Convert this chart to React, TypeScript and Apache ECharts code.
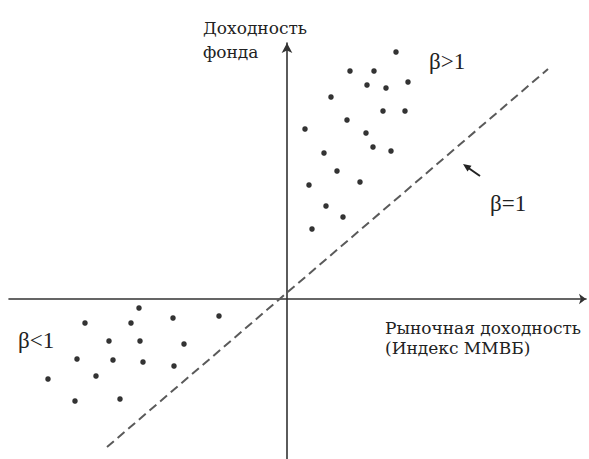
import React, { useEffect, useRef } from "react";
import * as echarts from "echarts";

// Scatter of fund return (y) vs market return (x), abstract units
const highBetaPoints: [number, number][] = [
  [10.9, 24.7], [6.3, 22.8], [8.7, 22.8], [8.0, 21.4], [9.9, 21.1], [12.1, 21.7],
  [4.4, 20.2], [9.6, 18.8], [11.8, 18.8], [6.0, 17.9], [1.8, 17.0], [7.9, 16.6],
  [8.6, 15.2], [10.4, 14.8], [3.7, 14.6], [5.0, 12.8], [2.2, 11.4], [7.3, 11.7],
  [3.9, 9.3], [5.6, 8.2], [2.5, 7.0],
];
const lowBetaPoints: [number, number][] = [
  [-14.8, -0.9], [-20.2, -2.4], [-15.6, -2.4], [-11.4, -1.9], [-6.8, -1.7],
  [-17.8, -4.2], [-14.7, -4.2], [-10.3, -4.5], [-21.0, -6.0], [-17.4, -6.1],
  [-14.4, -6.3], [-11.3, -6.7], [-23.9, -8.0], [-19.1, -7.7], [-21.2, -10.2],
  [-16.7, -10.0],
];
const betaOneLine: [number, number][] = [
  [-18.0, -14.8],
  [26.1, 23.0],
];
const xRange = [-27.8, 29.9];
const yRange = [-16.0, 25.6];

const yTitleLines = ["Доходность", "фонда"];
const xTitleLines = ["Рыночная доходность", "(Индекс ММВБ)"];
const betaLabels = ["β>1", "β=1", "β<1"];

export default function App() {
  const ref = useRef<HTMLDivElement>(null);
  useEffect(() => {
    if (!ref.current) return;
    const chart = echarts.init(ref.current, null, { renderer: "svg" });
    const axisFont = '17px "DejaVu Serif"';
    const betaFont = '23px "Liberation Serif"';
    const txt = (text: string, x: number, y: number, font: string) => ({
      type: "text",
      style: {
        text,
        x,
        y,
        font,
        fill: "#222",
        textAlign: "left",
        align: "left",
        textVerticalAlign: "middle",
        verticalAlign: "middle",
      },
    });
    chart.setOption({
      animation: false,
      backgroundColor: "#fff",
      grid: { left: 9, right: 3, top: 43, bottom: 0, containLabel: false },
      xAxis: {
        type: "value",
        min: xRange[0],
        max: xRange[1],
        axisLine: {
          onZero: true,
          symbol: ["none", "arrow"],
          symbolSize: [8, 7],
          lineStyle: { color: "#333", width: 1.6 },
        },
        axisTick: { show: false },
        axisLabel: { show: false },
        splitLine: { show: false },
      },
      yAxis: {
        type: "value",
        min: yRange[0],
        max: yRange[1],
        axisLine: {
          onZero: true,
          symbol: ["none", "arrow"],
          symbolSize: [8, 10],
          lineStyle: { color: "#333", width: 1.6 },
        },
        axisTick: { show: false },
        axisLabel: { show: false },
        splitLine: { show: false },
      },
      series: [
        {
          type: "line",
          data: betaOneLine,
          symbol: "none",
          lineStyle: { color: "#5a5a5a", width: 2, type: [9, 5] },
          z: 1,
        },
        {
          type: "scatter",
          data: highBetaPoints,
          symbolSize: 5.5,
          itemStyle: { color: "#000" },
          z: 3,
        },
        {
          type: "scatter",
          data: lowBetaPoints,
          symbolSize: 5.5,
          itemStyle: { color: "#000" },
          z: 3,
        },
      ],
      graphic: [
        txt(yTitleLines[0], 203, 28, axisFont),
        txt(yTitleLines[1], 203, 52, axisFont),
        txt(xTitleLines[0], 385, 328, axisFont),
        txt(xTitleLines[1], 385, 348, axisFont),
        txt(betaLabels[0], 429, 61, betaFont),
        txt(betaLabels[1], 490, 203, betaFont),
        txt(betaLabels[2], 18, 340, betaFont),
        {
          type: "line",
          shape: { x1: 480, y1: 176, x2: 467, y2: 167 },
          style: { stroke: "#222", lineWidth: 2 },
        },
        {
          type: "polygon",
          shape: { points: [[463, 164], [471.5, 165.7], [467.5, 171.5]] },
          style: { fill: "#222" },
        },
      ],
    });
    return () => chart.dispose();
  }, []);
  return (
    <div
      ref={ref}
      style={{ position: "absolute", left: 0, top: 0, width: 589, height: 459, background: "#fff" }}
    />
  );
}
